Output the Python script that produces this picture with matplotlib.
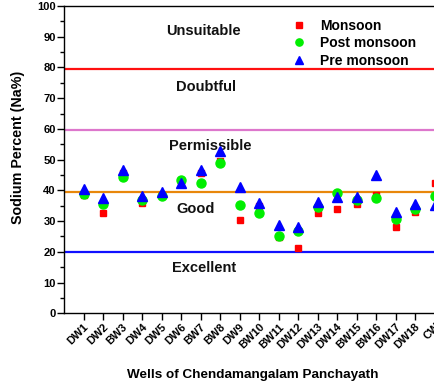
import matplotlib
matplotlib.use('Agg')
import matplotlib.pyplot as plt
import numpy as np

plt.rcParams['font.family'] = ['Liberation Sans', 'DejaVu Sans']

wells = ['DW1', 'DW2', 'BW3', 'DW4', 'DW5', 'DW6', 'BW7', 'BW8', 'DW9', 'BW10',
         'BW11', 'DW12', 'DW13', 'DW14', 'BW15', 'BW16', 'DW17', 'DW18', 'CW']
monsoon = [38.5, 32.5, 45.8, 36.0, 38.5, 43.0, 45.5, 49.6, 30.3, 34.9,
           24.9, 21.2, 32.5, 33.9, 35.5, 38.5, 28.2, 33.0, 42.5]
post_monsoon = [38.8, 35.5, 44.5, 36.9, 38.2, 43.3, 42.5, 48.9, 35.2, 32.7,
                25.0, 26.8, 34.5, 39.1, 36.9, 37.6, 30.6, 33.8, 38.2]
pre_monsoon = [40.5, 37.6, 46.6, 38.2, 39.4, 42.5, 46.6, 52.8, 41.2, 35.8,
               28.6, 28.2, 36.3, 38.0, 38.0, 45.0, 33.0, 35.6, 35.2]

limits = [79.5, 59.5, 39.5, 19.8]
limit_colors = ['#ff1010', '#dd77cc', '#e8870a', '#1010ff']
classes = ['Unsuitable', 'Doubtful', 'Permissible', 'Good', 'Excellent']
class_pos = [(7.15, 92.0), (7.3, 73.7), (7.5, 54.4), (6.75, 33.8), (7.2, 14.6)]

fig = plt.figure(figsize=(4.35, 3.85), dpi=100)
ax = fig.add_axes([64 / 435, 71.7 / 385, 390 / 435, 307.3 / 385])

x = np.arange(1, len(wells) + 1)

for y, c in zip(limits, limit_colors):
    ax.axhline(y, color=c, lw=1.6, zorder=1)

for name, (tx, ty) in zip(classes, class_pos):
    ax.text(tx, ty, name, ha='center', va='center', fontsize=10.5,
            fontweight='bold', color='#111111')

ax.plot(x, monsoon, 's', color='#ff0000', ms=5, ls='none', label='Monsoon', zorder=3)
ax.plot(x, post_monsoon, 'o', color='#00ee00', ms=6.5, ls='none', label='Post monsoon', zorder=4)
ax.plot(x, pre_monsoon, '^', color='#0000ff', ms=6.5, ls='none', label='Pre monsoon', zorder=5)

ax.set_xlim(0, 20)
ax.set_ylim(0, 100)
ax.set_xticks(x)
ax.set_xticklabels(wells, rotation=45, ha='right', rotation_mode='anchor',
                   fontsize=8, fontweight='bold')
ax.set_yticks(np.arange(0, 101, 10))
ax.set_yticks(np.arange(5, 100, 10), minor=True)
for lab in ax.get_yticklabels():
    lab.set_fontweight('bold')
    lab.set_fontsize(8)
ax.tick_params(axis='both', which='major', direction='out', length=5, width=1, pad=1)
ax.tick_params(axis='y', which='minor', direction='out', length=3, width=1)
for s in ax.spines.values():
    s.set_linewidth(1.0)

ax.set_ylabel('Sodium Percent (Na%)', fontsize=10.3, fontweight='bold')
ax.yaxis.set_label_coords(-0.10, 0.54)
ax.set_xlabel('Wells of Chendamangalam Panchayath', fontsize=9.7, fontweight='bold')
ax.xaxis.set_label_coords(0.485, -0.18)

leg = ax.legend(loc='upper left', bbox_to_anchor=(0.56, 0.99), frameon=False,
                prop={'size': 10, 'weight': 'bold'}, handlelength=1.0,
                handletextpad=1.0, labelspacing=0.25, borderpad=0.2,
                markerscale=0.8)

fig.savefig('out.png', dpi=100)
